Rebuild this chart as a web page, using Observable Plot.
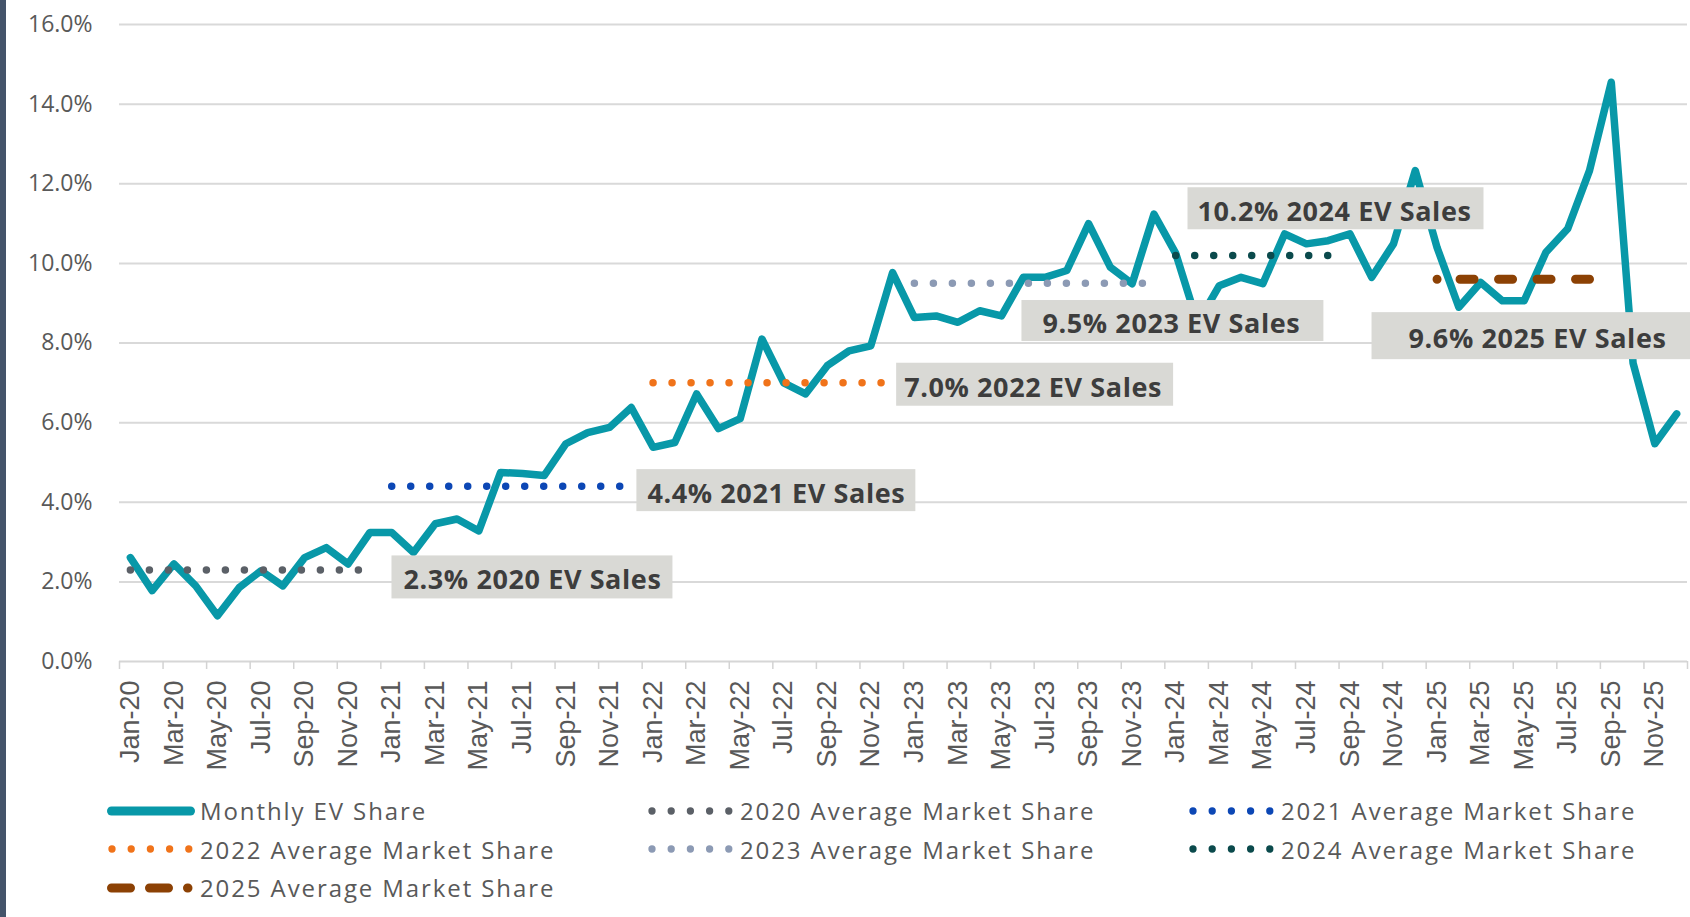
<!DOCTYPE html>
<html>
<head>
<meta charset="utf-8">
<script src="https://cdn.jsdelivr.net/npm/d3@7"></script>
<script src="https://cdn.jsdelivr.net/npm/@observablehq/plot@0.6"></script>
<style>
html, body { margin: 0; padding: 0; background: #fff; }
body { width: 1690px; height: 917px; overflow: hidden; position: relative; }
#bar { position: absolute; left: 0; top: 0; width: 6px; height: 917px; background: #44546a; }
#chart { position: absolute; left: 0; top: 0; }
#legend { position: absolute; left: 107px; top: 791.5px; display: grid; grid-template-columns: 540px 541px 400px;
  grid-auto-rows: 38.5px; font-family: "Open Sans", sans-serif; font-size: 24px; letter-spacing: 1.9px; color: #595959; }
.item { display: flex; align-items: center; white-space: nowrap; }
.item svg { flex: none; margin-right: 5px; }
</style>
</head>
<body>
<div id="chart"></div>
<div id="legend"></div>
<div id="bar"></div>
<script>
// ---------- data ----------
const months = [
  "Jan-20","Feb-20","Mar-20","Apr-20","May-20","Jun-20","Jul-20","Aug-20","Sep-20","Oct-20","Nov-20","Dec-20",
  "Jan-21","Feb-21","Mar-21","Apr-21","May-21","Jun-21","Jul-21","Aug-21","Sep-21","Oct-21","Nov-21","Dec-21",
  "Jan-22","Feb-22","Mar-22","Apr-22","May-22","Jun-22","Jul-22","Aug-22","Sep-22","Oct-22","Nov-22","Dec-22",
  "Jan-23","Feb-23","Mar-23","Apr-23","May-23","Jun-23","Jul-23","Aug-23","Sep-23","Oct-23","Nov-23","Dec-23",
  "Jan-24","Feb-24","Mar-24","Apr-24","May-24","Jun-24","Jul-24","Aug-24","Sep-24","Oct-24","Nov-24","Dec-24",
  "Jan-25","Feb-25","Mar-25","Apr-25","May-25","Jun-25","Jul-25","Aug-25","Sep-25","Oct-25","Nov-25","Dec-25"
];
const evShare = [
  2.61, 1.78, 2.45, 1.90, 1.15, 1.86, 2.28, 1.90, 2.61, 2.86, 2.45, 3.24,
  3.24, 2.74, 3.46, 3.58, 3.28, 4.75, 4.72, 4.67, 5.47, 5.75, 5.88, 6.38,
  5.38, 5.50, 6.72, 5.85, 6.10, 8.10, 7.00, 6.72, 7.43, 7.80, 7.93, 9.77,
  8.64, 8.68, 8.52, 8.81, 8.68, 9.65, 9.65, 9.82, 11.00, 9.90, 9.49, 11.24,
  10.25, 8.50, 9.44, 9.65, 9.49, 10.74, 10.49, 10.57, 10.74, 9.65, 10.49, 12.33,
  10.40, 8.90, 9.52, 9.06, 9.06, 10.28, 10.87, 12.33, 14.55, 7.50, 5.47, 6.22
];
const avgYears  = ["2020", "2021", "2022", "2023", "2024", "2025"];
const avgValues = [2.3, 4.4, 7.0, 9.5, 10.2, 9.6];
const avgStart  = ["Jan-20", "Jan-21", "Jan-22", "Jan-23", "Jan-24", "Jan-25"];
const avgEnd    = ["Dec-20", "Dec-21", "Dec-22", "Dec-23", "Aug-24", "Aug-25"];
const yTicks = [0, 2, 4, 6, 8, 10, 12, 14, 16];
const xLabelMonths = months.filter((m, i) => i % 2 === 0);
const avgLabels = avgYears.map((y, k) => `${avgValues[k].toFixed(1)}% ${y} EV Sales`);

// ---------- styles / annotation placement ----------
const teal = "#0898a8";
const avgStyle = {
  "2020": {stroke: "#5b6067", width: 7.5, dash: "0 19"},
  "2021": {stroke: "#0c47b5", width: 7.5, dash: "0 19"},
  "2022": {stroke: "#f0731a", width: 7.5, dash: "0 19"},
  "2023": {stroke: "#8c9ab4", width: 7.5, dash: "0 19"},
  "2024": {stroke: "#0b4a4c", width: 7.5, dash: "0 19"},
  "2025": {stroke: "#8c4104", width: 9, dash: "0 23 14 24.5 14 24.5 14 24.5 14 24.5"}
};
// text-left month position and vertical centre (in data units), box paddings [left, right, height]
const annX = [12.54, 23.74, 35.53, 41.88, 49.0, 58.69];
const annY = [2.03, 4.21, 6.87, 8.47, 11.29, 8.09];
const annPad = [[12, 11, 43], [11, 10, 42], [8, 11, 43], [21, 23, 41], [10, 12, 42], [37, 37, 47]];

// ---------- build ----------
const idx = new Map(months.map((m, i) => [m, i]));
const monthly = months.map((m, i) => ({i, m, v: evShare[i]}));
const annotations = avgYears.map((y, k) => ({x: annX[k], y: annY[k], text: avgLabels[k]}));
const tickBounds = xLabelMonths.map(m => idx.get(m) - 0.5).concat([months.length - 0.5]);
const labelTicks = xLabelMonths.map(m => idx.get(m));

const W = 1690, H = 790;
const plot = Plot.plot({
  width: W, height: H,
  marginLeft: 119, marginRight: 3, marginTop: 24, marginBottom: 129,
  style: {fontFamily: "Open Sans, sans-serif", background: "transparent", overflow: "visible"},
  x: {type: "linear", domain: [-0.5, months.length - 0.5]},
  y: {domain: [0, 16]},
  marks: [
    Plot.gridY(yTicks.filter(d => d > 0), {stroke: "#d9d9d9", strokeOpacity: 1, strokeWidth: 2}),
    Plot.ruleY([0], {stroke: "#d6d6d6", strokeWidth: 2}),
    Plot.axisX({ticks: tickBounds, tickSize: 8, tickFormat: () => "", color: "#d3d3d3", strokeWidth: 1.5}),
    Plot.axisX({ticks: labelTicks, tickFormat: i => months[i], tickSize: 0, tickPadding: 19, tickRotate: -90,
      fontSize: 27, fontFamily: "Liberation Sans, Arial, sans-serif", color: "#595959"}),
    Plot.axisY({ticks: yTicks, tickFormat: d => d.toFixed(1) + "%", tickSize: 0, tickPadding: 27,
      fontSize: 23, fontFamily: "Open Sans, sans-serif", color: "#595959"}),
    Plot.line(monthly, {x: "i", y: "v", stroke: teal, strokeWidth: 7.5, strokeLinejoin: "round", strokeLinecap: "round"}),
    ...avgYears.map((y, k) => Plot.line(
      [{i: idx.get(avgStart[k]), v: avgValues[k]}, {i: idx.get(avgEnd[k]), v: avgValues[k]}],
      {x: "i", y: "v", stroke: avgStyle[y].stroke, strokeWidth: avgStyle[y].width,
       strokeDasharray: avgStyle[y].dash, strokeLinecap: "round"})),
    Plot.text(annotations, {x: "x", y: "y", text: "text", textAnchor: "start", fontSize: 27, fontWeight: 700,
      fontFamily: "Open Sans, sans-serif", fill: "#3d3d3d"})
  ]
});
document.getElementById("chart").appendChild(plot);

// grey boxes behind annotation texts
const NS = "http://www.w3.org/2000/svg";
Array.from(plot.querySelectorAll("text")).forEach(t => {
  const k = avgLabels.indexOf(t.textContent.trim());
  if (k < 0) return;
  t.style.letterSpacing = "0.6px";
  const bb = t.getBBox();
  const [pl, pr, h] = annPad[k];
  const bc = bb.y + bb.height / 2;
  const rect = document.createElementNS(NS, "rect");
  rect.setAttribute("x", bb.x - pl);
  rect.setAttribute("width", bb.width + pl + pr);
  rect.setAttribute("y", bc - 23.4 - (h - 43) / 2);
  rect.setAttribute("height", h);
  rect.setAttribute("fill", "#d9d9d5");
  const tr = t.getAttribute("transform");
  if (tr) rect.setAttribute("transform", tr);
  t.parentNode.insertBefore(rect, t);
});

// ---------- legend ----------
const legendItems = [
  {label: "Monthly EV Share", stroke: teal, width: 9, dash: null, x1: 4.5, x2: 83.5},
  ...avgYears.map(y => ({label: `${y} Average Market Share`, stroke: avgStyle[y].stroke,
    width: y === "2025" ? 9 : 7.3, dash: y === "2025" ? "19 19" : "0 19.2",
    x1: y === "2025" ? 4.5 : 5, x2: y === "2025" ? 81 : 84}))
];
const legend = d3.select("#legend");
legendItems.forEach(it => {
  const div = legend.append("div").attr("class", "item");
  const svg = div.append("svg").attr("width", 88).attr("height", 14);
  svg.append("line").attr("x1", it.x1).attr("x2", it.x2).attr("y1", 7).attr("y2", 7)
    .attr("stroke", it.stroke).attr("stroke-width", it.width).attr("stroke-linecap", "round")
    .attr("stroke-dasharray", it.dash);
  div.append("span").text(it.label);
});
</script>
</body>
</html>
